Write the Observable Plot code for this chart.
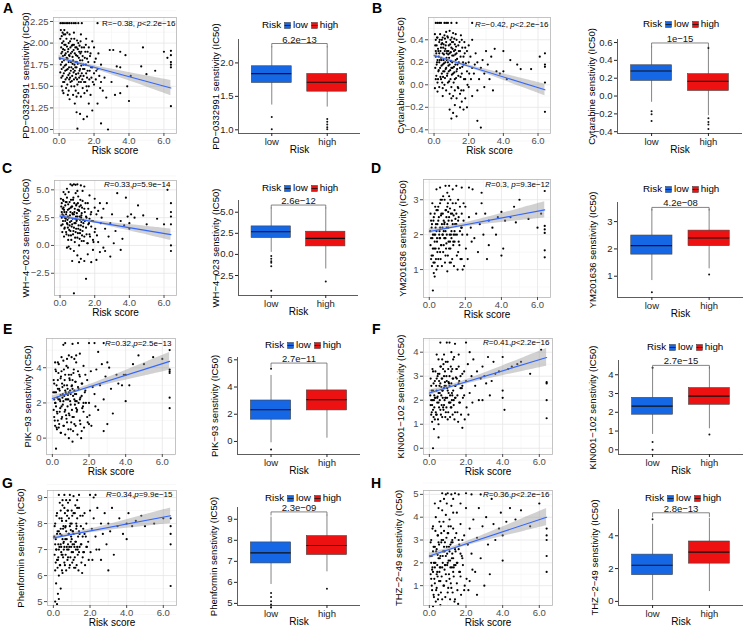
<!DOCTYPE html>
<html><head><meta charset="utf-8">
<script src="https://cdn.jsdelivr.net/npm/d3@7"></script>
<script src="https://cdn.jsdelivr.net/npm/@observablehq/plot@0.6"></script>
<style>
body{margin:0;background:#fff;}
#fig{position:relative;width:746px;height:629px;font-family:"Liberation Sans",Arial,sans-serif;overflow:hidden;background:#fff;}
#fig > svg{position:absolute;overflow:visible;}
.lab{position:absolute;font-weight:bold;font-size:14px;line-height:14px;color:#000;}
.leg{position:absolute;font-size:9.8px;line-height:10px;white-space:nowrap;display:flex;align-items:center;transform:translateY(-50%);color:#000;}
</style></head><body><div id="fig"></div><script>
// ---------------- data ----------------
const panelLetters = ["A","B","C","D","E","F","G","H"];
const drugs = ["PD−0332991","Cytarabine","WH−4−023","YM201636","PIK−93","KIN001−102","Phenformin","THZ−2−49"];
const groups = ["low","high"];
const corR = ["−0.38","−0.42","0.33","0.3","0.32","0.41","0.34","0.36"];
const corSep = [", ",", ",",",", ",",",",",",",","];
const corP = ["<2.2e−16","<2.2e−16","=5.9e−14","=9.3e−12","=2.5e−13","<2.2e−16","=9.9e−15","<2.2e−16"];
const corRItalic = [false,true,true,true,true,true,true,true];
const pBox = ["6.2e−13","1e−15","2.6e−12","4.2e−08","2.7e−11","2.7e−15","2.3e−09","2.8e−13"];

// regression fit: value at risk score 0 and at 6.4
const fitStart = [1.83,0.26,2.64,2.09,2.25,2.30,7.45,2.30];
const fitEnd   = [1.48,-0.045,0.97,2.71,4.36,3.78,8.30,4.00];
const bandX = [0,0.6,1.3,2.0,3.0,4.0,5.2,6.4];
const bandHW = [
  [0.027,0.020,0.017,0.020,0.033,0.048,0.067,0.087],
  [0.016,0.012,0.010,0.012,0.020,0.029,0.040,0.052],
  [0.16,0.12,0.10,0.12,0.19,0.28,0.40,0.51],
  [0.072,0.054,0.044,0.054,0.087,0.127,0.178,0.23],
  [0.16,0.12,0.096,0.12,0.19,0.28,0.39,0.50],
  [0.117,0.087,0.071,0.087,0.14,0.205,0.287,0.37],
  [0.095,0.07,0.058,0.07,0.114,0.166,0.233,0.30],
  [0.12,0.09,0.073,0.09,0.144,0.21,0.295,0.38]
];

const ptsA = [[0.08,2.23],[0.18,2.23],[0.28,2.23],[0.4,2.23],[0.5,2.23],[0.6,2.23],[0.72,2.23],[0.85,2.23],[0.95,2.23],[1.1,2.23],[1.3,2.23],[2.2,2.23],
[0.1,2.15],[0.15,2.08],[0.2,2.12],[0.25,2.02],[0.3,1.98],[0.35,2.1],[0.12,1.95],[0.18,1.9],[0.22,1.85],[0.28,1.8],[0.32,1.92],[0.38,1.88],[0.42,2.05],[0.45,1.96],[0.5,1.9],[0.55,2.0],[0.6,1.85],[0.65,1.95],[0.7,2.05],[0.75,1.9],[0.8,1.8],[0.85,1.98],[0.9,1.88],[0.95,1.78],[1.0,1.95],[1.05,1.85],[1.1,2.0],[1.15,1.9],[1.2,1.8],[1.3,1.95],[1.35,1.85],[1.4,1.75],[1.5,1.9],[1.6,1.82],[1.7,1.95],[1.8,1.88],
[0.1,1.75],[0.15,1.7],[0.2,1.62],[0.25,1.72],[0.3,1.55],[0.35,1.68],[0.4,1.75],[0.45,1.6],[0.5,1.7],[0.55,1.78],[0.6,1.65],[0.65,1.55],[0.7,1.72],[0.75,1.62],[0.8,1.7],[0.85,1.58],[0.9,1.68],[0.95,1.6],[1.0,1.72],[1.05,1.52],[1.1,1.65],[1.15,1.6],[1.2,1.7],[1.25,1.55],[1.3,1.65],[1.35,1.48],[1.4,1.62],[1.45,1.7],[1.5,1.55],[1.55,1.65],[1.6,1.6],[1.7,1.5],[1.75,1.68],[1.85,1.6],[1.9,1.72],[2.0,1.65],
[0.15,1.5],[0.25,1.42],[0.4,1.48],[0.55,1.45],[0.7,1.5],[0.8,1.4],[0.95,1.45],[1.1,1.42],[1.25,1.38],[1.45,1.42],[1.6,1.45],[1.8,1.4],[2.0,1.52],[2.1,1.58],[2.2,1.7],[2.3,1.62],[2.4,1.75],[2.1,1.82],[2.25,1.88],[2.0,1.95],[2.4,1.55],
[1.9,2.02],[1.55,2.05],[1.25,2.1],[0.85,2.12],[0.6,2.1],[0.3,2.15],[0.05,1.82],[0.48,1.82],[0.68,1.78],[1.02,1.78],[1.22,1.88],[0.78,1.98],[0.58,1.58],[0.88,1.75],
[2.6,1.6],[2.7,1.37],[2.5,1.45],[3.0,1.55],[3.2,1.4],[3.3,1.73],[3.5,1.72],[3.5,1.42],[3.9,1.5],[4.0,1.33],[2.9,1.92],[3.1,1.92],[3.5,1.9],[3.8,1.86],[4.1,1.62],[4.7,1.73],[4.8,1.95],[5.0,1.64],[5.5,1.68],[6.0,1.9],[6.2,1.83],[6.4,1.91],[6.4,1.86],[6.4,1.78],[6.4,1.75],[6.4,1.72],[6.4,1.27],
[2.8,1.0],[2.4,1.07],[1.9,1.22],[1.6,1.15],[1.05,1.01],[1.2,1.18],[1.4,1.12],[1.0,1.2],[1.7,1.3],[0.6,1.35],[0.9,1.3],[2.2,1.3]];
const coreA = [[0.07,2.05],[0.13,1.88],[0.17,2.0],[0.23,1.93],[0.27,2.1],[0.33,1.86],[0.37,1.98],[0.43,1.83],[0.47,2.12],[0.53,1.93],[0.57,1.86],[0.63,2.02],[0.67,1.88],[0.73,1.97],[0.77,1.84],[0.83,1.92],[0.87,2.05],[0.93,1.95],[0.97,1.86],[1.03,2.03],[1.07,1.93],[1.13,1.83],[1.17,1.97],[1.23,2.02],[1.27,1.9],[1.33,1.8],[1.43,1.95],[1.47,1.83],[1.53,1.98],[1.63,1.9],[1.67,1.78],[1.77,1.85],
[0.07,1.66],[0.13,1.6],[0.17,1.78],[0.23,1.55],[0.27,1.65],[0.33,1.74],[0.37,1.58],[0.43,1.69],[0.47,1.52],[0.53,1.63],[0.57,1.72],[0.63,1.6],[0.67,1.68],[0.73,1.56],[0.77,1.76],[0.83,1.66],[0.87,1.5],[0.93,1.72],[0.97,1.64],[1.03,1.58],[1.07,1.76],[1.13,1.55],[1.17,1.68],[1.23,1.62],[1.27,1.74],[1.33,1.58],[1.37,1.7],[1.43,1.55],[1.53,1.75],[1.57,1.5],[1.63,1.68],[1.73,1.58],[1.83,1.72],[1.93,1.55],[2.03,1.78],[2.13,1.68],[2.35,1.48],[0.2,1.45],[0.5,1.4],[1.0,1.38]];

const ptsB = [[0.1,0.55],[0.2,0.55],[0.3,0.55],[0.4,0.55],[0.6,0.55],[0.7,0.55],[0.8,0.55],[1.0,0.55],[1.3,0.55],[2.2,0.55],
[0.05,0.45],[0.1,0.4],[0.15,0.35],[0.2,0.42],[0.25,0.3],[0.3,0.38],[0.35,0.45],[0.4,0.33],[0.45,0.4],[0.5,0.28],[0.55,0.36],[0.6,0.44],[0.65,0.32],[0.7,0.38],[0.75,0.3],[0.8,0.42],[0.85,0.35],[0.9,0.28],[0.95,0.4],[1.0,0.33],[1.05,0.26],[1.1,0.38],[1.15,0.3],[1.2,0.36],[1.25,0.45],[1.3,0.28],[1.4,0.35],[1.5,0.3],[1.6,0.4],[1.7,0.25],[1.8,0.33],[1.9,0.3],
[0.1,0.25],[0.15,0.18],[0.2,0.22],[0.25,0.12],[0.3,0.2],[0.35,0.15],[0.4,0.24],[0.45,0.1],[0.5,0.18],[0.55,0.22],[0.6,0.12],[0.65,0.2],[0.7,0.15],[0.75,0.08],[0.8,0.2],[0.85,0.12],[0.9,0.18],[0.95,0.05],[1.0,0.15],[1.05,0.2],[1.1,0.1],[1.15,0.16],[1.2,0.05],[1.25,0.22],[1.3,0.12],[1.35,0.18],[1.4,0.08],[1.5,0.15],[1.6,0.1],[1.7,0.18],[1.8,0.05],[1.9,0.12],[2.0,0.2],[2.1,0.25],[2.2,0.15],
[0.1,0.05],[0.2,0.02],[0.3,-0.02],[0.4,0.05],[0.5,-0.03],[0.6,0.0],[0.7,-0.05],[0.8,0.02],[0.9,-0.08],[1.0,-0.02],[1.1,-0.1],[1.2,-0.05],[1.3,-0.12],[1.4,-0.03],[1.5,-0.08],[1.6,-0.15],[1.7,-0.05],[1.8,-0.12],[2.0,-0.02],[0.05,-0.03],
[0.1,0.3],[0.3,0.28],[0.5,0.42],[0.7,0.47],[0.9,0.48],[1.1,0.46],[1.3,0.4],[1.55,0.44],[1.75,0.38],[2.0,0.35],[2.2,0.4],[0.62,0.3],[0.82,0.27],[1.02,0.42],[0.42,0.36],[1.22,0.31],[0.52,0.07],[0.72,0.24],
[2.3,0.1],[2.4,0.28],[2.5,0.2],[2.6,0.05],[2.7,0.15],[2.8,0.22],[2.9,0.1],[3.0,0.3],[3.1,0.18],[3.2,0.05],[3.3,0.25],[3.5,0.32],[3.6,0.12],[3.8,0.1],[4.0,0.3],[4.0,0.12],[4.2,0.05],[4.4,0.22],[4.8,0.18],[5.0,0.14],[5.6,0.14],[6.1,0.25],[6.4,0.28],[6.4,0.18],[6.4,0.16],[6.4,0.02],[6.4,-0.24],[2.5,-0.05],[3.4,-0.05],[2.9,-0.02],
[1.0,-0.3],[1.1,-0.25],[1.3,-0.28],[1.5,-0.2],[1.7,-0.22],[2.5,-0.32],[2.7,-0.38],[1.9,-0.2],[1.2,-0.18],[0.9,-0.22],[2.2,-0.1]];
const coreB = [[0.07,0.35],[0.13,0.28],[0.17,0.42],[0.23,0.32],[0.27,0.25],[0.33,0.4],[0.37,0.3],[0.43,0.22],[0.47,0.37],[0.53,0.33],[0.57,0.27],[0.63,0.41],[0.67,0.35],[0.73,0.28],[0.77,0.43],[0.83,0.3],[0.87,0.24],[0.93,0.36],[0.97,0.29],[1.03,0.38],[1.07,0.32],[1.13,0.26],[1.17,0.41],[1.23,0.27],[1.27,0.34],[1.33,0.23],[1.43,0.3],[1.47,0.38],[1.53,0.25],[1.63,0.33],[1.67,0.2],[1.77,0.28],
[0.07,0.15],[0.13,0.08],[0.17,0.2],[0.23,0.05],[0.27,0.13],[0.33,0.22],[0.37,0.07],[0.43,0.17],[0.47,0.02],[0.53,0.12],[0.57,0.19],[0.63,0.06],[0.67,0.14],[0.73,0.22],[0.77,0.1],[0.83,0.17],[0.87,0.03],[0.93,0.13],[0.97,0.21],[1.03,0.09],[1.07,0.15],[1.13,0.02],[1.17,0.11],[1.23,0.18],[1.27,0.06],[1.33,0.14],[1.37,-0.02],[1.43,0.2],[1.53,0.07],[1.57,-0.05],[1.63,0.16],[1.73,0.05],[1.83,0.19],[1.93,0.0],[2.03,0.1],[2.13,0.05],[2.35,0.18],[0.2,-0.06],[0.5,-0.1],[1.0,-0.12]];

const ptsC = [[0.6,5.5],[0.7,5.4],[0.8,5.5],[0.9,5.45],[1.0,5.5],[1.2,5.4],[1.4,5.3],[0.4,5.1],
[0.05,4.2],[0.1,3.8],[0.15,3.3],[0.2,4.0],[0.25,3.0],[0.3,3.6],[0.35,2.8],[0.4,4.3],[0.45,3.2],[0.5,2.5],[0.55,3.9],[0.6,3.0],[0.65,2.2],[0.7,3.5],[0.75,4.1],[0.8,2.8],[0.85,3.3],[0.9,2.0],[0.95,3.7],[1.0,2.6],[1.05,4.4],[1.1,3.1],[1.15,2.3],[1.2,3.6],[1.25,2.9],[1.3,4.0],[1.35,2.0],[1.4,3.3],[1.5,2.6],[1.6,3.8],[1.7,2.4],[1.8,3.0],[1.9,2.2],[2.0,3.4],[2.1,2.8],[2.2,3.1],
[0.1,2.5],[0.15,1.9],[0.2,2.7],[0.25,1.5],[0.3,2.2],[0.35,1.2],[0.4,2.0],[0.45,1.6],[0.5,0.9],[0.55,1.8],[0.6,1.3],[0.65,0.5],[0.7,1.9],[0.75,1.0],[0.8,1.6],[0.85,0.3],[0.9,1.2],[0.95,2.2],[1.0,0.7],[1.05,1.5],[1.1,0.0],[1.15,1.1],[1.2,1.8],[1.25,0.4],[1.3,1.3],[1.4,0.8],[1.5,1.6],[1.6,0.2],[1.7,1.0],[1.8,1.7],[1.9,0.5],[2.0,1.2],[2.2,0.3],
[0.3,4.6],[0.5,4.8],[0.9,4.7],[1.3,4.9],[1.7,4.5],[2.0,4.2],[2.3,3.8],[0.1,3.0],[0.2,3.4],[0.45,2.6],[0.62,3.4],[0.82,3.8],[1.02,3.2],[1.22,2.5],[0.72,2.9],[0.92,2.6],[1.12,3.5],[0.38,3.9],
[0.8,-0.5],[1.0,-0.9],[1.2,-1.2],[0.6,-0.3],[1.4,-1.4],[1.6,-0.8],[1.8,-1.5],[2.1,-1.3],[2.3,-0.6],[0.7,-1.4],[1.1,-1.5],[1.5,-3.0],[0.8,-4.3],[2.5,-0.2],[1.9,-0.4],[0.4,-0.2],
[2.4,2.5],[2.5,3.3],[2.6,1.5],[2.7,3.8],[2.8,0.8],[2.9,2.0],[3.0,2.8],[3.1,0.2],[3.2,1.3],[3.3,4.7],[3.5,2.2],[3.6,0.6],[3.7,1.8],[3.8,4.3],[3.9,2.6],[4.0,1.5],[4.0,2.0],[4.1,2.8],[4.3,2.5],[4.5,3.6],[4.8,2.7],[5.0,1.9],[5.6,2.4],[6.0,1.9],[6.2,5.0],[6.4,3.8],[6.4,3.0],[6.4,2.6],[6.4,1.9],[6.4,0.0],[6.4,-0.5],[2.6,-0.5],[3.5,-0.4],[2.9,-1.0]];
const coreC = [[0.07,3.5],[0.13,2.8],[0.17,4.1],[0.23,3.2],[0.27,2.5],[0.33,3.9],[0.37,3.0],[0.43,2.3],[0.47,3.7],[0.53,3.3],[0.57,2.7],[0.63,4.1],[0.67,3.5],[0.73,2.8],[0.77,4.3],[0.83,3.0],[0.87,2.4],[0.93,3.6],[0.97,2.9],[1.03,3.8],[1.07,3.2],[1.13,2.6],[1.17,4.1],[1.23,2.7],[1.27,3.4],[1.33,2.3],[1.43,3.0],[1.47,3.8],[1.53,2.5],[1.63,3.3],[1.67,2.0],[1.77,2.8],
[0.07,1.8],[0.13,1.2],[0.17,2.2],[0.23,0.8],[0.27,1.6],[0.33,2.4],[0.37,1.0],[0.43,1.9],[0.47,0.5],[0.53,1.4],[0.57,2.1],[0.63,0.9],[0.67,1.7],[0.73,2.4],[0.77,1.3],[0.83,2.0],[0.87,0.7],[0.93,1.5],[0.97,2.3],[1.03,1.1],[1.07,1.8],[1.13,0.6],[1.17,1.4],[1.23,2.1],[1.27,0.9],[1.33,1.7],[1.37,0.4],[1.43,2.2],[1.53,1.0],[1.57,0.2],[1.63,1.9],[1.73,0.8],[1.83,2.2],[1.93,0.3],[2.03,1.5],[2.13,0.9],[2.35,2.0],[0.2,4.8],[0.5,-0.1],[1.0,4.9]];

const ptsD = [[0.9,3.4],[1.1,3.4],[1.5,3.4],[1.8,3.35],[2.2,3.35],[1.3,3.3],
[0.05,2.1],[0.1,1.9],[0.15,2.3],[0.2,1.6],[0.25,2.5],[0.3,1.8],[0.35,2.2],[0.4,2.7],[0.45,1.5],[0.5,2.4],[0.55,2.0],[0.6,2.9],[0.65,1.7],[0.7,2.3],[0.75,2.6],[0.8,2.1],[0.85,3.0],[0.9,1.9],[0.95,2.5],[1.0,2.8],[1.05,2.2],[1.1,3.1],[1.15,1.8],[1.2,2.6],[1.25,2.4],[1.3,2.9],[1.35,2.0],[1.4,2.7],[1.5,2.3],[1.6,3.0],[1.7,2.1],[1.8,2.6],[1.9,2.4],[2.0,2.8],[2.1,2.0],[2.2,2.5],
[0.1,1.3],[0.15,1.1],[0.2,1.4],[0.25,0.9],[0.3,1.2],[0.35,1.6],[0.4,1.0],[0.5,1.3],[0.6,1.5],[0.7,1.1],[0.8,1.7],[0.9,1.4],[1.0,0.95],[1.1,1.6],[1.2,1.2],[1.4,1.8],[1.6,1.5],[1.8,1.3],[1.85,1.0],[0.2,0.4],[0.3,0.8],
[0.1,2.4],[0.2,2.0],[0.3,2.6],[0.4,2.1],[0.5,2.8],[0.6,2.2],[0.7,3.0],[0.8,2.4],[0.9,2.7],[1.0,2.3],[1.1,2.5],[1.2,2.0],[1.3,2.3],[1.4,2.1],[1.5,2.6],[1.6,2.4],[1.7,2.8],[1.8,2.2],[1.9,2.9],[0.6,1.9],[0.9,2.1],[1.05,2.65],[0.75,2.0],[1.45,2.45],[0.45,2.3],[0.65,2.55],[0.85,2.35],[1.15,2.75],[1.35,2.55],[0.95,1.75],
[2.3,2.2],[2.4,3.3],[2.5,1.9],[2.6,2.6],[2.7,1.5],[2.8,2.3],[2.9,2.9],[3.0,2.0],[3.1,2.6],[3.2,1.3],[3.3,2.4],[3.5,2.2],[3.7,2.0],[3.8,2.5],[4.0,2.65],[4.0,1.4],[4.1,1.6],[4.2,2.4],[4.5,2.5],[4.8,2.35],[5.0,3.0],[4.7,2.8],[5.5,2.45],[6.0,2.2],[6.2,2.6],[6.4,3.25],[6.4,2.25],[6.4,2.15],[6.4,2.05],[6.4,1.55],[6.4,1.35],[2.9,3.2],[3.3,1.7]];
const coreD = [[0.07,2.6],[0.13,2.2],[0.17,2.9],[0.23,2.4],[0.27,2.0],[0.33,2.8],[0.37,2.3],[0.43,1.9],[0.47,2.7],[0.53,2.5],[0.57,2.1],[0.63,3.0],[0.67,2.6],[0.73,2.2],[0.77,3.1],[0.83,2.3],[0.87,1.9],[0.93,2.7],[0.97,2.2],[1.03,2.9],[1.07,2.4],[1.13,2.0],[1.17,3.0],[1.23,2.1],[1.27,2.6],[1.33,1.8],[1.43,2.3],[1.47,2.9],[1.53,2.0],[1.63,2.5],[1.67,1.7],[1.77,2.2],
[0.07,1.7],[0.13,1.4],[0.17,1.9],[0.23,1.2],[0.27,1.6],[0.33,2.0],[0.37,1.3],[0.43,1.8],[0.47,1.1],[0.53,1.6],[0.57,1.9],[0.63,1.3],[0.67,1.7],[0.73,2.0],[0.77,1.5],[0.83,1.9],[0.87,1.2],[0.93,1.6],[0.97,2.0],[1.03,1.4],[1.07,1.8],[1.13,1.2],[1.17,1.6],[1.23,1.9],[1.27,1.3],[1.33,1.7],[1.37,1.1],[1.43,2.0],[1.53,1.4],[1.57,1.0],[1.63,1.8],[1.73,1.3],[1.83,2.0],[1.93,1.1],[2.03,1.6],[2.13,1.3],[2.35,1.8],[0.4,3.3],[0.6,3.35],[1.0,3.2]];

const ptsE = [[0.6,5.3],[0.7,5.4],[1.1,5.35],[1.4,5.4],[2.0,5.4],[2.3,5.4],[2.8,5.4],
[0.05,2.6],[0.1,3.1],[0.15,2.0],[0.2,3.8],[0.25,1.5],[0.3,2.8],[0.35,4.2],[0.4,2.2],[0.45,3.4],[0.5,1.8],[0.55,2.9],[0.6,4.4],[0.65,2.4],[0.7,3.6],[0.75,1.3],[0.8,3.0],[0.85,4.0],[0.9,2.6],[0.95,3.3],[1.0,1.9],[1.05,4.6],[1.1,2.8],[1.15,3.7],[1.2,2.2],[1.25,3.2],[1.3,4.3],[1.35,1.6],[1.4,2.9],[1.5,3.5],[1.6,2.4],[1.7,4.1],[1.8,2.7],[1.9,3.3],[2.0,2.0],[2.1,3.8],[2.2,2.9],
[0.1,1.2],[0.15,0.7],[0.2,1.8],[0.25,0.5],[0.3,1.0],[0.35,0.6],[0.4,1.5],[0.45,0.3],[0.5,1.1],[0.6,0.7],[0.7,1.6],[0.8,0.9],[0.9,1.4],[1.0,0.5],[1.1,1.2],[1.2,0.8],[1.3,1.7],[1.5,1.0],[1.6,0.4],[1.7,1.5],[1.9,1.2],[2.0,0.8],[0.2,-0.6],[0.9,0.0],[1.1,-0.2],[0.7,0.2],
[0.1,2.2],[0.2,2.6],[0.3,3.3],[0.4,2.7],[0.5,3.8],[0.6,2.1],[0.7,2.7],[0.8,2.2],[0.9,3.6],[1.0,2.5],[1.1,3.3],[1.2,2.7],[1.3,2.5],[1.4,3.8],[1.5,2.2],[1.6,3.1],[1.7,2.0],[1.8,3.6],[0.3,4.3],[0.15,4.3],[0.9,4.7],[1.5,4.8],[1.2,4.5],[0.45,2.45],[0.65,3.0],[0.85,2.45],[1.05,2.95],[1.25,2.1],[0.55,2.3],[0.75,2.5],
[2.3,2.5],[2.4,3.9],[2.5,1.6],[2.6,3.0],[2.7,4.2],[2.8,2.2],[2.9,3.5],[3.0,0.8],[3.1,4.0],[3.2,2.8],[3.3,1.4],[3.5,3.6],[3.6,3.1],[3.8,3.0],[3.9,3.6],[4.0,2.1],[4.0,3.6],[4.2,3.0],[4.4,4.2],[4.7,4.7],[5.0,4.2],[5.5,4.6],[6.0,4.5],[6.4,5.0],[6.4,3.8],[6.4,3.7],[6.4,3.9],[6.4,2.3],[6.4,1.7],[2.5,4.9],[3.0,4.3],[2.8,0.4]];
const coreE = [[0.07,3.3],[0.13,2.6],[0.17,3.9],[0.23,3.0],[0.27,2.3],[0.33,3.7],[0.37,2.8],[0.43,2.1],[0.47,3.5],[0.53,3.1],[0.57,2.5],[0.63,3.9],[0.67,3.3],[0.73,2.6],[0.77,4.1],[0.83,2.8],[0.87,2.2],[0.93,3.4],[0.97,2.7],[1.03,3.6],[1.07,3.0],[1.13,2.4],[1.17,3.9],[1.23,2.5],[1.27,3.2],[1.33,2.1],[1.43,2.8],[1.47,3.6],[1.53,2.3],[1.63,3.1],[1.67,1.8],[1.77,2.6],
[0.07,1.6],[0.13,1.0],[0.17,2.0],[0.23,0.6],[0.27,1.4],[0.33,2.2],[0.37,0.8],[0.43,1.7],[0.47,0.3],[0.53,1.2],[0.57,1.9],[0.63,0.7],[0.67,1.5],[0.73,2.2],[0.77,1.1],[0.83,1.8],[0.87,0.5],[0.93,1.3],[0.97,2.1],[1.03,0.9],[1.07,1.6],[1.13,0.4],[1.17,1.2],[1.23,1.9],[1.27,0.7],[1.33,1.5],[1.37,0.2],[1.43,2.0],[1.53,0.8],[1.57,0.0],[1.63,1.7],[1.73,0.6],[1.83,2.0],[1.93,0.9],[2.03,1.3],[2.13,0.7],[2.35,1.8],[0.5,4.6],[0.8,4.5],[1.3,4.7]];

const ptsF = [[0.6,4.4],[0.95,4.4],[1.1,4.4],[1.4,4.35],[2.0,4.4],
[0.05,2.2],[0.1,2.6],[0.15,1.8],[0.2,3.2],[0.25,2.0],[0.3,2.8],[0.35,1.5],[0.4,2.4],[0.45,3.0],[0.5,1.9],[0.55,2.6],[0.6,3.4],[0.65,2.2],[0.7,2.9],[0.75,1.7],[0.8,2.5],[0.85,3.2],[0.9,2.1],[0.95,2.8],[1.0,3.6],[1.05,2.3],[1.1,3.0],[1.15,1.9],[1.2,2.7],[1.25,3.3],[1.3,2.4],[1.35,3.8],[1.4,2.1],[1.5,2.9],[1.6,3.4],[1.7,2.5],[1.8,3.1],[1.9,2.2],[2.0,2.8],[2.1,3.5],[2.2,2.3],
[0.1,1.4],[0.15,1.1],[0.2,1.6],[0.25,0.8],[0.3,1.2],[0.4,1.4],[0.5,1.0],[0.6,1.6],[0.7,1.3],[0.8,1.8],[0.9,1.5],[1.0,1.2],[1.2,1.7],[1.4,1.5],[0.5,0.45],[0.2,0.0],[1.8,0.85],[1.1,1.9],
[0.1,2.0],[0.2,2.4],[0.3,2.1],[0.4,2.9],[0.5,2.3],[0.6,2.7],[0.7,2.4],[0.8,3.0],[0.9,2.6],[1.0,2.4],[1.1,2.6],[1.2,3.2],[1.3,2.9],[1.4,2.6],[1.5,3.3],[1.6,2.7],[1.7,3.0],[1.8,2.6],[1.9,3.2],[0.9,3.6],[0.4,3.9],[0.7,3.7],[1.2,4.0],[1.6,3.9],[0.45,2.15],[0.65,2.55],[0.85,2.75],[1.05,2.75],[1.25,2.2],[0.55,3.1],[0.75,3.3],[1.45,2.95],
[2.3,3.0],[2.4,3.7],[2.5,2.6],[2.6,3.2],[2.7,2.0],[2.8,2.9],[2.9,3.4],[3.0,3.0],[3.1,2.7],[3.2,3.8],[3.3,2.2],[3.5,3.6],[3.6,3.1],[3.8,3.2],[4.0,2.4],[4.0,2.1],[4.0,3.8],[4.1,1.6],[4.3,3.3],[4.5,3.4],[4.8,3.5],[5.0,3.6],[5.5,3.1],[6.1,4.1],[6.4,2.75],[6.4,2.7],[6.4,2.0],[6.4,1.25],[2.9,2.0],[3.4,2.8],[2.2,4.0]];
const coreF = [[0.07,2.9],[0.13,2.4],[0.17,3.3],[0.23,2.7],[0.27,2.2],[0.33,3.2],[0.37,2.6],[0.43,2.1],[0.47,3.1],[0.53,2.8],[0.57,2.3],[0.63,3.4],[0.67,2.9],[0.73,2.4],[0.77,3.5],[0.83,2.6],[0.87,2.1],[0.93,3.0],[0.97,2.5],[1.03,3.3],[1.07,2.7],[1.13,2.2],[1.17,3.4],[1.23,2.3],[1.27,2.9],[1.33,2.0],[1.43,2.6],[1.47,3.3],[1.53,2.2],[1.63,2.8],[1.67,1.9],[1.77,2.5],
[0.07,1.8],[0.13,1.5],[0.17,2.0],[0.23,1.3],[0.27,1.7],[0.33,2.1],[0.37,1.4],[0.43,1.9],[0.47,1.2],[0.53,1.7],[0.57,2.0],[0.63,1.4],[0.67,1.8],[0.73,2.1],[0.77,1.6],[0.83,2.0],[0.87,1.3],[0.93,1.7],[0.97,2.1],[1.03,1.5],[1.07,1.9],[1.13,1.3],[1.17,1.7],[1.23,2.0],[1.27,1.4],[1.33,1.8],[1.37,1.2],[1.43,2.1],[1.53,1.5],[1.57,1.1],[1.63,1.9],[1.73,1.4],[1.83,2.1],[1.93,1.2],[2.03,1.7],[2.13,1.4],[2.35,1.9],[0.5,3.7],[0.8,3.9],[1.3,3.7]];

const ptsG = [[0.3,9.1],[0.6,9.1],[0.9,9.1],[1.1,9.05],[1.4,9.1],[2.0,9.1],[2.3,9.1],
[0.05,7.5],[0.1,8.0],[0.15,7.0],[0.2,8.4],[0.25,6.6],[0.3,7.7],[0.35,8.8],[0.4,7.2],[0.45,8.2],[0.5,6.8],[0.55,7.9],[0.6,8.6],[0.65,7.4],[0.7,8.1],[0.75,7.0],[0.8,8.5],[0.85,7.6],[0.9,8.9],[0.95,7.3],[1.0,8.0],[1.05,7.7],[1.1,8.4],[1.15,7.1],[1.2,8.7],[1.25,7.8],[1.3,8.2],[1.35,7.5],[1.4,8.6],[1.5,7.9],[1.6,8.3],[1.7,7.6],[1.8,8.0],[1.9,7.3],[2.0,8.5],[2.1,7.8],[2.2,8.2],
[0.1,6.2],[0.15,5.7],[0.2,6.6],[0.25,5.3],[0.3,6.0],[0.35,6.4],[0.4,5.5],[0.45,6.8],[0.5,6.1],[0.6,6.5],[0.7,6.2],[0.8,6.7],[0.9,6.4],[1.0,6.9],[1.1,6.6],[1.2,6.3],[1.4,6.9],[1.6,6.7],[0.2,4.9],[0.1,5.0],[0.3,5.1],
[0.1,7.2],[0.2,7.6],[0.3,7.0],[0.4,7.8],[0.5,7.4],[0.6,7.1],[0.7,7.7],[0.8,7.2],[0.9,7.9],[1.0,7.4],[1.1,7.6],[1.2,7.3],[1.3,7.1],[1.4,7.7],[1.5,7.2],[1.6,7.5],[1.7,8.4],[1.8,7.1],[0.5,8.7],[0.7,8.9],[1.3,8.9],[1.0,8.5],[0.4,8.5],[0.45,7.55],[0.65,7.85],[0.85,8.2],[1.05,7.2],[1.25,8.0],[0.55,7.25],[0.75,8.3],[0.95,7.75],
[2.3,7.5],[2.4,8.6],[2.5,7.0],[2.6,8.0],[2.7,7.6],[2.8,8.4],[2.9,7.2],[3.0,8.0],[3.1,7.7],[3.2,8.6],[3.3,6.8],[3.5,7.9],[3.6,8.2],[3.8,7.6],[4.0,8.0],[4.0,7.4],[4.1,8.4],[4.3,7.9],[4.5,8.1],[4.8,8.3],[5.0,7.9],[5.5,8.0],[6.0,8.2],[6.4,8.2],[6.4,7.9],[6.4,7.6],[6.4,7.2],[6.4,5.6],[2.6,6.6],[3.0,6.2],[2.2,9.0]];
const coreG = [[0.07,7.9],[0.13,7.4],[0.17,8.3],[0.23,7.7],[0.27,7.2],[0.33,8.2],[0.37,7.6],[0.43,7.1],[0.47,8.1],[0.53,7.8],[0.57,7.3],[0.63,8.4],[0.67,7.9],[0.73,7.4],[0.77,8.5],[0.83,7.6],[0.87,7.1],[0.93,8.0],[0.97,7.5],[1.03,8.3],[1.07,7.7],[1.13,7.2],[1.17,8.4],[1.23,7.3],[1.27,7.9],[1.33,7.0],[1.43,7.6],[1.47,8.3],[1.53,7.2],[1.63,7.8],[1.67,6.9],[1.77,7.5],
[0.07,6.8],[0.13,6.5],[0.17,7.0],[0.23,6.3],[0.27,6.7],[0.33,7.1],[0.37,6.4],[0.43,6.9],[0.47,6.2],[0.53,6.7],[0.57,7.0],[0.63,6.4],[0.67,6.8],[0.73,7.1],[0.77,6.6],[0.83,7.0],[0.87,6.3],[0.93,6.7],[0.97,7.1],[1.03,6.5],[1.07,6.9],[1.13,6.3],[1.17,6.7],[1.23,7.0],[1.27,6.4],[1.33,6.8],[1.37,6.2],[1.43,7.1],[1.53,6.5],[1.57,6.1],[1.63,6.9],[1.73,6.4],[1.83,7.1],[1.93,6.6],[2.03,6.9],[2.13,6.6],[2.35,7.0],[0.5,8.9],[0.8,8.8],[1.3,8.6]];

const ptsH = [[0.7,5.05],[0.9,5.0],[1.0,5.05],[1.2,5.0],[1.4,5.05],[1.6,5.0],[2.0,5.05],[2.3,5.0],[2.8,5.0],
[0.05,2.3],[0.1,3.0],[0.15,1.7],[0.2,3.6],[0.25,2.0],[0.3,2.7],[0.35,4.0],[0.4,1.5],[0.45,3.2],[0.5,2.2],[0.55,3.8],[0.6,1.8],[0.65,2.9],[0.7,4.3],[0.75,2.5],[0.8,3.4],[0.85,1.9],[0.9,4.1],[0.95,2.7],[1.0,3.3],[1.05,2.1],[1.1,3.9],[1.15,2.8],[1.2,4.5],[1.25,2.4],[1.3,3.5],[1.35,1.9],[1.4,3.1],[1.5,4.2],[1.6,2.6],[1.7,3.7],[1.8,2.2],[1.9,3.2],[2.0,4.4],[2.1,2.8],[2.2,3.5],
[0.1,1.3],[0.15,0.8],[0.2,1.6],[0.25,0.5],[0.3,1.1],[0.35,0.3],[0.4,0.9],[0.45,1.4],[0.5,0.6],[0.6,1.2],[0.7,0.4],[0.8,1.0],[0.9,1.5],[1.0,0.7],[1.1,1.3],[1.2,0.9],[1.3,1.6],[1.5,1.1],[1.7,1.4],[1.9,0.8],[0.2,0.1],[0.6,0.15],[1.4,0.4],
[0.1,2.0],[0.2,2.5],[0.3,1.8],[0.4,2.6],[0.5,2.9],[0.6,2.3],[0.7,1.8],[0.8,2.7],[0.9,2.3],[1.0,2.0],[1.1,2.5],[1.2,2.9],[1.3,2.2],[1.4,2.6],[1.5,2.0],[1.6,3.0],[1.7,2.4],[1.8,3.0],[0.3,4.6],[0.6,4.7],[0.95,4.6],[1.3,4.8],[1.7,4.6],[0.45,2.35],[0.65,3.3],[0.85,2.9],[1.05,3.6],[1.25,3.0],[0.55,1.6],[0.75,3.0],[1.15,1.8],
[2.3,2.4],[2.4,3.9],[2.5,1.6],[2.6,3.1],[2.7,4.4],[2.8,2.2],[2.9,3.6],[3.0,1.0],[3.1,4.0],[3.2,2.8],[3.3,1.5],[3.5,3.7],[3.6,3.0],[3.8,3.5],[3.9,4.2],[4.0,2.1],[4.0,3.2],[4.2,3.8],[4.4,4.4],[4.7,3.9],[5.0,4.3],[5.5,3.6],[6.0,4.6],[6.4,3.5],[6.4,3.2],[6.4,3.0],[6.4,2.3],[6.4,1.6],[2.6,0.6],[3.4,4.8],[2.2,1.2]];
const coreH = [[0.07,2.9],[0.13,2.3],[0.17,3.5],[0.23,2.7],[0.27,2.0],[0.33,3.4],[0.37,2.5],[0.43,1.9],[0.47,3.2],[0.53,2.8],[0.57,2.2],[0.63,3.6],[0.67,3.0],[0.73,2.3],[0.77,3.8],[0.83,2.5],[0.87,1.9],[0.93,3.1],[0.97,2.4],[1.03,3.3],[1.07,2.7],[1.13,2.1],[1.17,3.6],[1.23,2.2],[1.27,2.9],[1.33,1.8],[1.43,2.5],[1.47,3.3],[1.53,2.0],[1.63,2.8],[1.67,1.6],[1.77,2.3],
[0.07,1.5],[0.13,1.0],[0.17,1.8],[0.23,0.6],[0.27,1.3],[0.33,2.0],[0.37,0.8],[0.43,1.6],[0.47,0.4],[0.53,1.2],[0.57,1.8],[0.63,0.7],[0.67,1.4],[0.73,2.0],[0.77,1.0],[0.83,1.7],[0.87,0.5],[0.93,1.2],[0.97,1.9],[1.03,0.9],[1.07,1.5],[1.13,0.4],[1.17,1.1],[1.23,1.8],[1.27,0.7],[1.33,1.4],[1.37,0.3],[1.43,1.9],[1.53,0.8],[1.57,0.2],[1.63,1.6],[1.73,0.6],[1.83,1.9],[1.93,1.0],[2.03,1.3],[2.13,0.8],[2.35,1.7],[0.5,4.4],[0.8,4.8],[1.3,4.2]];

const scatterPts = [ptsA.concat(coreA),ptsB.concat(coreB),ptsC.concat(coreC),ptsD.concat(coreD),ptsE.concat(coreE),ptsF.concat(coreF),ptsG.concat(coreG),ptsH.concat(coreH)];

// box stats: [lower whisker, Q1, median, Q3, upper whisker]
const boxLow = [
  [1.37,1.70,1.84,1.95,2.24],[-0.07,0.17,0.28,0.345,0.55],[0.24,1.94,2.69,3.32,5.5],[0.84,1.79,2.12,2.49,3.45],
  [-0.1,1.6,2.33,3.01,4.85],[0.82,1.87,2.33,2.77,4.3],[5.9,6.9,7.4,7.9,9.1],[0.05,1.6,2.2,2.85,4.7]];
const boxHigh = [
  [1.34,1.57,1.71,1.835,2.24],[-0.22,0.057,0.165,0.245,0.55],[-1.73,0.95,1.9,2.69,5.5],[1.27,2.1,2.4,2.67,3.45],
  [0.24,2.28,3.07,3.75,5.4],[1.12,2.4,2.86,3.29,4.4],[6.5,7.3,7.75,8.2,9.2],[0.6,2.3,3.0,3.65,5.05]];
const outLow = [[1.19,1.01],[-0.17,-0.205,-0.28],[-0.2,-0.5,-0.8,-1.0,-1.4,-4.3],[0.41],[5.35,-0.6],[4.37,0.41,0.0],[5.5,5.3,5.1,4.95,4.8],[5.0]];
const outHigh = [[1.16,1.12,1.08,1.04,1.01],[0.54,-0.25,-0.29,-0.32,-0.37],[-3.2],[1.06],[],[0.82],[5.7],[]];
const bracketY = [2.29,0.595,5.85,3.52,5.76,4.5,9.35,5.4];
const bracketTick = [2.24,0.55,5.5,3.42,5.46,4.35,9.2,5.15];

// ---------------- layout ----------------
const BLUE = "#1667E6", RED = "#EE1111";
const FONT = "Liberation Sans, Arial, sans-serif";
const scatterFrame = [[53,17,176,133],[428,17,550,133],[54,180,176,295],[423,179,550,297],[46,338,175,454],[423,338,552,454],[47,490,176,605],[423,490,552,605]];
const scatterYDomain = [[0.954,2.296],[-0.433,0.598],[-4.5,5.84],[0.2,3.58],[-0.93,5.66],[-0.26,4.57],[4.85,9.27],[0.13,5.17]];
const scatterYTicks = [[1,1.25,1.5,1.75,2,2.25],[-0.4,-0.2,0,0.2,0.4],[-2.5,0,2.5,5],[1,2,3],[0,2,4],[0,1,2,3,4],[5,6,7,8,9],[1,2,3,4,5]];
const scatterFmt = [".2f",".1f",".1f","d","d","d","d","d"];
const scatterYLabDx = [-28,-28,-29,-21,-19,-23,-27,-25];
const corDx = [-1,-2,-6,-1,-4,-3,-4,-3];
const corDy = [5.7,7,3.5,5.3,4.7,3.7,4,4];
const boxFrame = [[238,39,360,133],[617,39,742,133],[238,200,358,295],[617,202,743,297],[237,357,360,454],[618,360,743,454],[237,507,360,605],[618,509,743,605]];
const boxYDomain = [[0.945,2.35],[-0.42,0.634],[-4.87,6.39],[0.22,3.7],[-0.96,6.17],[-0.25,4.76],[4.9,9.56],[-0.25,5.6]];
const boxYTicks = [[1,1.5,2],[-0.4,-0.2,0,0.2,0.4,0.6],[-2.5,0,2.5,5],[1,2,3],[0,2,4,6],[0,1,2,3,4],[5,6,7,8,9],[0,2,4]];
const boxFmt = [".1f",".1f",".1f","d","d","d","d","d"];
const boxYLabDx = [-23,-26,-23,-25,-23,-26,-24,-24];
const legendPos = [[262,25],[643,24],[262,188],[643,189],[265,345],[647,347],[265,498],[645,498]];
const letterPos = [[3,0.5],[372,0.5],[2,160.5],[371,160.5],[3,321.5],[372,321.5],[2,475.5],[371,475.5]];

const fig = document.getElementById("fig");
const ML = 45, MT = 12, MR = 8, MB = 30;
function place(svg, fx, fy){ svg.style.left = (fx-ML)+"px"; svg.style.top = (fy-MT)+"px"; fig.appendChild(svg); }

function scatter(i){
  const [x0,y0,x1,y1] = scatterFrame[i];
  const pts = scatterPts[i].map(([x,y]) => ({x,y}));
  const b0 = fitStart[i], slope = (fitEnd[i]-fitStart[i])/6.4;
  const fit = [0,6.4].map(x => ({x, y: b0+slope*x}));
  const band = bandX.map((x,k) => ({x, lo: b0+slope*x-bandHW[i][k], hi: b0+slope*x+bandHW[i][k]}));
  const yt = scatterYTicks[i], st = yt[1]-yt[0];
  const minor = d3.range(yt[0]-st/2, yt[yt.length-1]+st, st);
  const corStr = "R=" + corR[i] + corSep[i] + "p" + corP[i];
  const svg = Plot.plot({
    width: (x1-x0)+ML+MR, height: (y1-y0)+MT+MB,
    marginLeft: ML, marginTop: MT, marginRight: MR, marginBottom: MB,
    x: {domain: [-0.32, 6.72]},
    y: {domain: scatterYDomain[i]},
    style: {fontFamily: FONT, background: "transparent", overflow: "visible"},
    marks: [
      Plot.gridX({ticks: [1,3,5], stroke: "#f3f3f3", strokeOpacity: 1, strokeWidth: 0.6}),
      Plot.gridY({ticks: minor, stroke: "#f3f3f3", strokeOpacity: 1, strokeWidth: 0.6}),
      Plot.gridX({ticks: [0,2,4,6], stroke: "#e6e6e6", strokeOpacity: 1, strokeWidth: 0.8}),
      Plot.gridY({ticks: yt, stroke: "#e6e6e6", strokeOpacity: 1, strokeWidth: 0.8}),
      Plot.dot(pts, {x: "x", y: "y", r: 1.1, fill: "black", stroke: null}),
      Plot.areaY(band, {x: "x", y1: "lo", y2: "hi", fill: "#9a9a9a", fillOpacity: 0.45, curve: "catmull-rom"}),
      Plot.line(fit, {x: "x", y: "y", stroke: "#3366FF", strokeWidth: 1.1}),
      Plot.frame({stroke: "#b5b5b5", strokeWidth: 0.8}),
      Plot.axisX({ticks: [0,2,4,6], tickSize: 3, tickPadding: 1, fontSize: 9.5, color: "#4d4d4d", label: null}),
      Plot.axisY({ticks: yt, tickFormat: d3.format(scatterFmt[i]), tickSize: 3, tickPadding: 2, fontSize: 9.5, color: "#4d4d4d", label: null}),
      Plot.text([corStr], {text: d => d, frameAnchor: "top-right", dx: corDx[i], dy: corDy[i], fontSize: 8, textAnchor: "end", lineAnchor: "middle", fill: "black"}),
      Plot.text(["Risk score"], {text: d => d, frameAnchor: "bottom", dy: 17, fontSize: 10, textAnchor: "middle", lineAnchor: "middle", fill: "black"}),
      Plot.text([drugs[i] + " senstivity (IC50)"], {text: d => d, frameAnchor: "left", rotate: -90, dx: scatterYLabDx[i], fontSize: 9.5, textAnchor: "middle", lineAnchor: "middle", fill: "black"})
    ]
  });
  svg.querySelectorAll("text").forEach(t => {
    if (t.textContent === corStr) {
      const r = corRItalic[i] ? '<tspan font-style="italic">R</tspan>' : 'R';
      t.innerHTML = r + "=" + corR[i] + corSep[i] + '<tspan font-style="italic">p</tspan>' + corP[i].replace("<","&lt;");
    }
  });
  place(svg, x0, y0);
}

function box(i){
  const [x0,y0,x1,y1] = boxFrame[i];
  const stats = [{g: 1, s: boxLow[i], c: BLUE}, {g: 2, s: boxHigh[i], c: RED}];
  const outs = [...outLow[i].map(v => ({g: 1, v})), ...outHigh[i].map(v => ({g: 2, v}))];
  const dom = boxYDomain[i];
  const br = [{x: 1, y: bracketTick[i]}, {x: 1, y: bracketY[i]}, {x: 2, y: bracketY[i]}, {x: 2, y: bracketTick[i]}];
  const hw = 0.36;
  const svg = Plot.plot({
    width: (x1-x0)+ML+MR, height: (y1-y0)+MT+MB,
    marginLeft: ML, marginTop: MT, marginRight: MR, marginBottom: MB,
    x: {domain: [0.4, 2.6]},
    y: {domain: dom},
    color: {type: "identity"},
    style: {fontFamily: FONT, background: "transparent", overflow: "visible"},
    marks: [
      Plot.ruleX(stats, {x: "g", y1: d => d.s[0], y2: d => d.s[4], stroke: "#666", strokeWidth: 0.8}),
      Plot.rect(stats, {x1: d => d.g-hw, x2: d => d.g+hw, y1: d => d.s[1], y2: d => d.s[3], fill: d => d.c, stroke: "#444", strokeWidth: 0.6}),
      Plot.ruleY(stats, {y: d => d.s[2], x1: d => d.g-hw, x2: d => d.g+hw, stroke: "#111", strokeWidth: 1.1}),
      Plot.dot(outs, {x: "g", y: "v", r: 1, fill: "#111", stroke: null}),
      Plot.line(br, {x: "x", y: "y", stroke: "#666", strokeWidth: 0.8}),
      Plot.text([pBox[i]], {text: d => d, x: 1.5, y: bracketY[i], dy: -1, fontSize: 9.5, textAnchor: "middle", lineAnchor: "bottom", fill: "#111"}),
      Plot.ruleX([0.4], {stroke: "#333", strokeWidth: 0.8}),
      Plot.ruleY([dom[0]], {stroke: "#333", strokeWidth: 0.8}),
      Plot.axisY({ticks: boxYTicks[i], tickFormat: d3.format(boxFmt[i]), tickSize: 3, tickPadding: 2, fontSize: 9.5, color: "#222", label: null}),
      Plot.axisX({ticks: [1,2], tickFormat: d => groups[d-1], tickSize: 3, tickPadding: 2, fontSize: 9.5, color: "#222", label: null}),
      Plot.text(["Risk"], {text: d => d, frameAnchor: "bottom", dy: 16, fontSize: 10, textAnchor: "middle", lineAnchor: "middle", fill: "black"}),
      Plot.text([drugs[i] + " senstivity (IC50)"], {text: d => d, frameAnchor: "left", rotate: -90, dx: boxYLabDx[i], fontSize: 9.5, textAnchor: "middle", lineAnchor: "middle", fill: "black"})
    ]
  });
  place(svg, x0, y0);
}

function key(c){
  return `<svg width="7" height="7" style="margin:0 2px 0 3px;display:block"><rect x="0.5" y="0.5" width="6" height="6" fill="${c}" stroke="#333" stroke-width="0.5"/><line x1="0.5" x2="6.5" y1="3.5" y2="3.5" stroke="#111" stroke-width="0.8"/></svg>`;
}

for (let i = 0; i < 8; i++) {
  scatter(i);
  box(i);
  const lg = document.createElement("div");
  lg.className = "leg";
  lg.style.left = legendPos[i][0] + "px";
  lg.style.top = legendPos[i][1] + "px";
  lg.innerHTML = `<span>Risk</span>${key(BLUE)}<span>low</span>${key(RED)}<span>high</span>`;
  fig.appendChild(lg);
  const lt = document.createElement("div");
  lt.className = "lab";
  lt.style.left = letterPos[i][0] + "px";
  lt.style.top = letterPos[i][1] + "px";
  lt.textContent = panelLetters[i];
  fig.appendChild(lt);
}
</script></body></html>
